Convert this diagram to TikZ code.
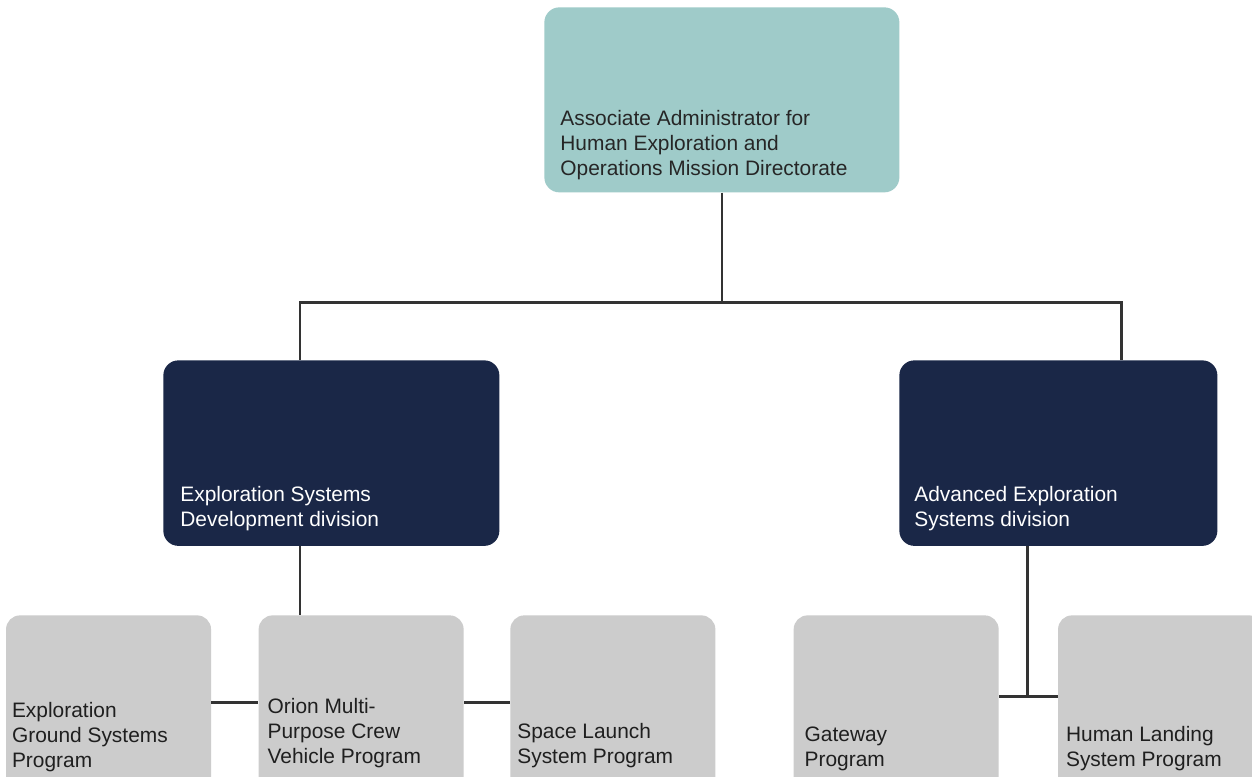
\documentclass[tikz,border=0pt]{standalone}
\usepackage{fontspec}
\setmainfont{Liberation Sans}

\definecolor{hqteal}{HTML}{9FCBC9}
\definecolor{divnavy}{HTML}{1A2747}
\definecolor{proggray}{HTML}{CCCCCC}
\definecolor{linegray}{HTML}{333333}

% box text: height to last baseline, width, gap below, lines
\newcommand{\boxtext}[4]{\parbox[b][#1][b]{#2}{#4\rule[-#3]{0pt}{#3}}}

\begin{document}
\begin{tikzpicture}[
  orgbox/.style={rounded corners=0.3cm, anchor=north west, inner ysep=0pt, font=\fontsize{11.9}{14.3}\selectfont},
  hqbox/.style={orgbox, fill=hqteal, text=black!85, inner xsep=0.32cm},
  divbox/.style={orgbox, fill=divnavy, text=white, inner xsep=0.34cm},
  progbox/.style={orgbox, fill=proggray, text=black!88, rounded corners=0.28cm},
  link/.style={draw=linegray, line width=1.4pt}
]

\useasboundingbox (0,0) rectangle (25.04,-15.52);
\clip (0,0) rectangle (25.04,-15.52);
\fill[white] (0,0) rectangle (25.04,-15.52);

\node[hqbox] (hq) at (10.88,-0.14) {\boxtext{3.36cm}{6.46cm}{0.34cm}{Associate Administrator for\\Human Exploration and\\Operations Mission Directorate}};

\node[divbox] (esd) at (3.26,-7.2) {\boxtext{3.33cm}{6.04cm}{0.38cm}{Exploration Systems\\Development division}};
\node[divbox, inner xsep=0.3cm] (aes) at (17.98,-7.2) {\boxtext{3.33cm}{5.76cm}{0.38cm}{Advanced Exploration\\Systems division}};

\node[progbox, inner xsep=0.12cm] (egs) at (0.114,-12.3) {\boxtext{3.04cm}{3.86cm}{0.6cm}{Exploration\\Ground Systems\\Program}};
\node[progbox, inner xsep=0.18cm] (orion) at (5.166,-12.3) {\boxtext{2.97cm}{3.74cm}{0.6cm}{Orion Multi-\\Purpose Crew\\Vehicle Program}};
\node[progbox, inner xsep=0.14cm] (sls) at (10.2,-12.3) {\boxtext{2.96cm}{3.82cm}{0.6cm}{Space Launch\\System Program}};
\node[progbox, inner xsep=0.22cm] (gw) at (15.866,-12.3) {\boxtext{3.02cm}{3.66cm}{0.6cm}{Gateway\\Program}};
\node[progbox, inner xsep=0.16cm] (hls) at (21.154,-12.3) {\boxtext{3.02cm}{3.78cm}{0.6cm}{Human Landing\\System Program}};

\coordinate (bus) at (0,-6.05);
\coordinate (esdtop) at (6.0,-7.2);
\coordinate (aestop) at (22.434,-7.2);
\coordinate (egsbus) at (0,-14.046);
\coordinate (aesdrop) at (20.554,-13.934);

\draw[link] (hq.south) -- (hq.south |- bus);
\draw[link] (esdtop) |- (aestop |- bus) -- (aestop);
\draw[link] (esdtop |- esd.south) -- (esdtop |- orion.north);
\draw[link] (egs.east |- egsbus) -- (orion.west |- egsbus);
\draw[link] (orion.east |- egsbus) -- (sls.west |- egsbus);
\draw[link] (aesdrop |- aes.south) -- (aesdrop);
\draw[link] (gw.east |- aesdrop) -- (hls.west |- aesdrop);
\end{tikzpicture}
\end{document}
